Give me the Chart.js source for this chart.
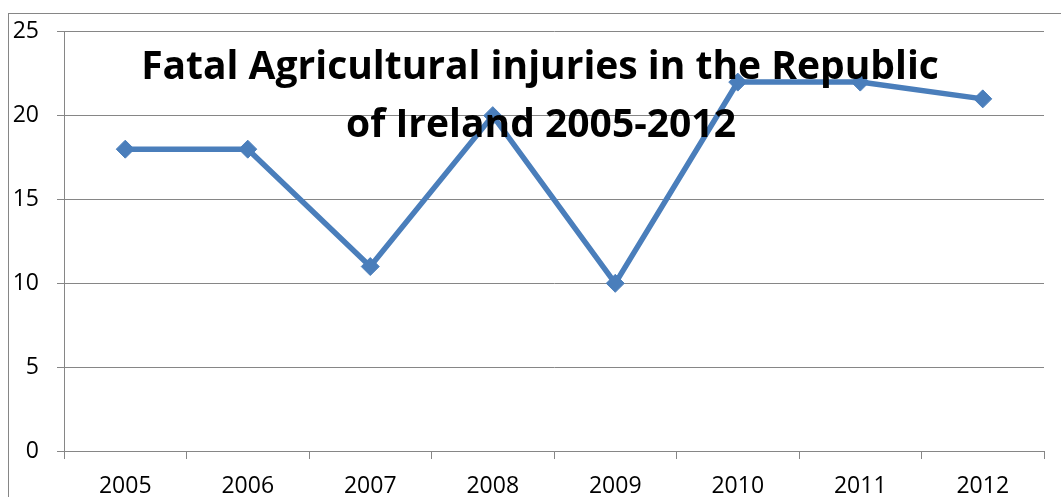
<!DOCTYPE html>
<html>
<head>
<meta charset="utf-8">
<script src="https://cdn.jsdelivr.net/npm/chart.js@4.4.0/dist/chart.umd.min.js"></script>
<style>
  html, body { margin: 0; padding: 0; background: #fff; overflow: hidden; }
  #wrap { width: 1061px; height: 497px; }
</style>
</head>
<body>
<div id="wrap"><canvas id="myChart" width="1061" height="497"></canvas></div>
<script>
// data
var years = ['2005', '2006', '2007', '2008', '2009', '2010', '2011', '2012'];
var fatalities = [18, 18, 11, 20, 10, 22, 22, 21];
var titleLines = ['Fatal Agricultural injuries in the Republic', 'of Ireland 2005-2012'];

var lineBlue = '#4A7EBB';
var axisGray = '#868686';

// outer frame of the chart object
const framePlugin = {
  id: 'frame',
  beforeDraw(chart) {
    const c = chart.ctx;
    c.save();
    c.strokeStyle = axisGray;
    c.lineWidth = 1;
    c.strokeRect(8.5, 13.5, 1060, 500);
    c.restore();
  }
};

// title sits on top of the plot, like the original
const overTitle = {
  id: 'overTitle',
  afterDraw(chart) {
    const c = chart.ctx;
    c.save();
    c.fillStyle = '#000';
    c.textAlign = 'center';
    c.textBaseline = 'alphabetic';
    c.font = "bold 39px 'Open Sans'";
    c.fillText(titleLines[0], 540, 79);
    c.fillText(titleLines[1], 541, 137);
    c.restore();
  }
};

const ctx = document.getElementById('myChart').getContext('2d');
let myChart = new Chart(ctx, {
  type: 'line',
  data: {
    labels: years,
    datasets: [{
      data: fatalities,
      borderColor: lineBlue,
      backgroundColor: lineBlue,
      borderWidth: 5.5,
      tension: 0,
      pointStyle: 'rectRot',
      pointRadius: 9,
      pointHoverRadius: 9,
      pointBorderWidth: 1,
      pointBackgroundColor: lineBlue,
      pointBorderColor: lineBlue
    }]
  },
  options: {
    responsive: false,
    animation: false,
    layout: { padding: { left: 0, right: 17, top: 29, bottom: 0 } },
    plugins: {
      legend: { display: false },
      title: { display: false },
      tooltip: { enabled: false }
    },
    scales: {
      x: {
        offset: true,
        grid: {
          offset: true,
          drawOnChartArea: false,
          color: axisGray,
          tickLength: 8
        },
        border: { color: axisGray },
        ticks: {
          color: '#000',
          padding: 14,
          maxRotation: 0,
          font: { family: "'Open Sans'", size: 23 }
        },
        afterFit(scale) { scale.height = 46; }
      },
      y: {
        min: 0,
        max: 25,
        ticks: {
          stepSize: 5,
          color: '#000',
          padding: 18,
          font: { family: "'Open Sans'", size: 23 }
        },
        grid: { color: axisGray, tickLength: 7 },
        border: { color: axisGray },
        afterFit(scale) { scale.width = 64; }
      }
    }
  },
  plugins: [framePlugin, overTitle]
});
</script>
</body>
</html>
